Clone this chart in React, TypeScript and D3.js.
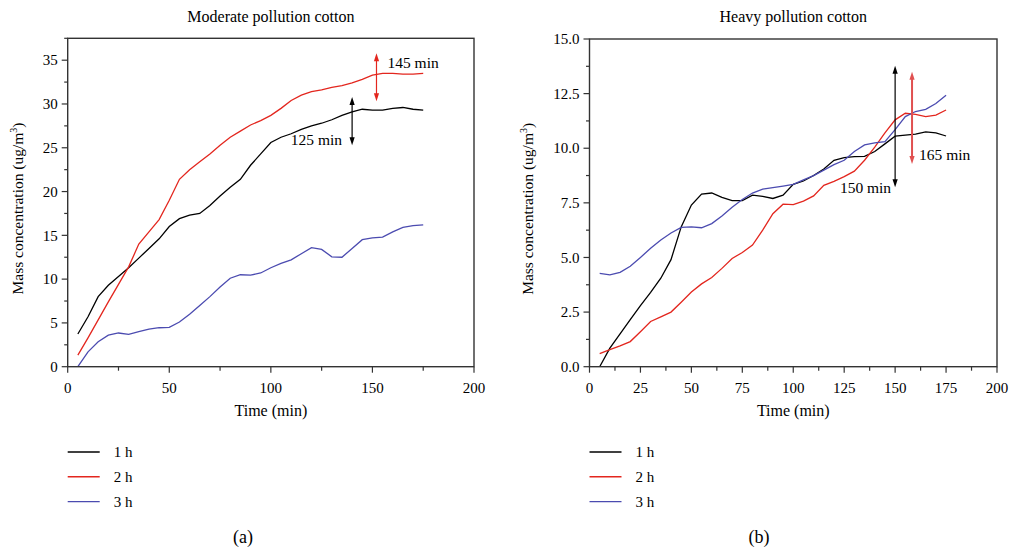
import React from "react";
import * as d3 from "d3";

const timeMin = [5, 10, 15, 20, 25, 30, 35, 40, 45, 50, 55, 60, 65, 70, 75, 80, 85, 90, 95, 100, 105, 110, 115, 120, 125, 130, 135, 140, 145, 150, 155, 160, 165, 170, 175];

const moderate1h = [3.73, 5.7, 8.0, 9.3, 10.3, 11.3, 12.4, 13.5, 14.6, 16.0, 16.9, 17.3, 17.5, 18.4, 19.5, 20.5, 21.4, 23.0, 24.3, 25.6, 26.2, 26.6, 27.1, 27.5, 27.8, 28.2, 28.7, 29.1, 29.4, 29.3, 29.3, 29.5, 29.6, 29.4, 29.3];
const moderate2h = [1.33, 3.3, 5.35, 7.4, 9.4, 11.4, 14.0, 15.4, 16.8, 19.0, 21.4, 22.5, 23.4, 24.3, 25.3, 26.2, 26.9, 27.6, 28.1, 28.7, 29.5, 30.4, 31.0, 31.4, 31.6, 31.9, 32.1, 32.4, 32.8, 33.3, 33.5, 33.5, 33.4, 33.4, 33.5];
const moderate3h = [0, 1.7, 2.85, 3.6, 3.85, 3.7, 4.0, 4.3, 4.45, 4.5, 5.1, 6.0, 7.0, 8.0, 9.1, 10.1, 10.5, 10.45, 10.7, 11.3, 11.8, 12.2, 12.9, 13.6, 13.4, 12.55, 12.5, 13.5, 14.5, 14.7, 14.8, 15.4, 15.9, 16.1, 16.2];

const heavy1h = [0, 0.85, 1.5, 2.15, 2.8, 3.4, 4.05, 4.9, 6.4, 7.4, 7.9, 7.95, 7.75, 7.6, 7.6, 7.85, 7.8, 7.7, 7.85, 8.35, 8.5, 8.75, 9.05, 9.45, 9.57, 9.62, 9.63, 9.85, 10.2, 10.55, 10.6, 10.65, 10.75, 10.7, 10.56];
const heavy2h = [0.6, 0.78, 0.95, 1.15, 1.6, 2.07, 2.28, 2.5, 2.95, 3.42, 3.79, 4.08, 4.5, 4.95, 5.23, 5.57, 6.25, 7.0, 7.44, 7.42, 7.58, 7.82, 8.3, 8.48, 8.7, 8.95, 9.45, 10.05, 10.7, 11.3, 11.6, 11.55, 11.45, 11.52, 11.75];
const heavy3h = [4.27, 4.2, 4.32, 4.6, 5.0, 5.42, 5.8, 6.12, 6.38, 6.4, 6.36, 6.55, 6.9, 7.3, 7.65, 7.95, 8.13, 8.2, 8.27, 8.35, 8.55, 8.75, 9.0, 9.25, 9.45, 9.85, 10.15, 10.25, 10.3, 10.85, 11.45, 11.68, 11.78, 12.05, 12.43];

const seriesLabels = ["1 h", "2 h", "3 h"];
const seriesColors = ["#000000", "#e3261e", "#4b4bb0"];

const panelTitles = ["Moderate pollution cotton", "Heavy pollution cotton"];
const panelTags = ["(a)", "(b)"];

const moderateYTicks = [0, 5, 10, 15, 20, 25, 30, 35];
const heavyYTicks = [0, 2.5, 5, 7.5, 10, 12.5, 15];
const moderateXTicks = [0, 50, 100, 150, 200];
const heavyXTicks = [0, 25, 50, 75, 100, 125, 150, 175, 200];

const moderateArrows = [
  { t: 140, lo: 25.3, hi: 30.8, label: "125 min", base: 25.3, color: "#000000" },
  { t: 152, lo: 30.3, hi: 35.8, label: "145 min", base: 34.1, color: "#e3261e" },
];
const heavyArrows = [
  { t: 150, lo: 8.21, hi: 13.77, label: "150 min", base: 7.95, color: "#000000" },
  { t: 158.3, lo: 9.28, hi: 13.5, label: "165 min", base: 9.46, color: "#e05050" },
];

const FONT = "'Liberation Serif', 'Times New Roman', serif";

type PanelProps = {
  x0: number; x1: number; yTop: number; yBot: number;
  yMax: number; yTicks: number[]; yMinorStep: number; yFmt: (v: number) => string;
  xTicks: number[]; xMinorStep: number;
  series: number[][]; title: string; tag: string; tagX: number;
  arrows: { t: number; lo: number; hi: number; label: string; base: number; color: string }[];
  arrowSides: ("left" | "right")[]; arrowOffsets: number[]; arrowWidths: number[];
  yLabelX: number;
};

function Panel(p: PanelProps) {
  const x = d3.scaleLinear().domain([0, 200]).range([p.x0, p.x1]);
  const y = d3.scaleLinear().domain([0, p.yMax]).range([p.yBot, p.yTop]);
  const line = d3.line<number>().x((_, i) => x(timeMin[i])).y((d) => y(d)).curve(d3.curveLinear);
  const yMinor = d3.range(0, p.yMax + 1e-6, p.yMinorStep).filter((v) => !p.yTicks.some((t) => Math.abs(t - v) < 1e-6));
  const xMinor = d3.range(0, 200 + 1e-6, p.xMinorStep).filter((v) => !p.xTicks.some((t) => Math.abs(t - v) < 1e-6));
  const cx = (p.x0 + p.x1) / 2;
  const axisColor = "#333";
  const head = (px: number, py: number, dir: number, color: string) => (
    <path d={`M${px},${py} L${px - 2.6},${py + dir * 8} L${px + 2.6},${py + dir * 8} Z`} fill={color} />
  );
  return (
    <g fontFamily={FONT}>
      <text x={cx} y={22} textAnchor="middle" fontSize={16}>{p.title}</text>
      {p.series.map((s, i) => (
        <path key={i} d={line(s) || ""} fill="none" stroke={seriesColors[i]} strokeWidth={1.3} />
      ))}
      <rect x={p.x0} y={p.yTop} width={p.x1 - p.x0} height={p.yBot - p.yTop} fill="none" stroke={axisColor} strokeWidth={1.4} />
      {p.yTicks.map((t) => (
        <g key={"y" + t}>
          <line x1={p.x0 - 6} x2={p.x0} y1={y(t)} y2={y(t)} stroke={axisColor} strokeWidth={1.2} />
          <text x={p.x0 - 10} y={y(t)} dy="0.35em" textAnchor="end" fontSize={15}>{p.yFmt(t)}</text>
        </g>
      ))}
      {yMinor.map((t) => (
        <line key={"ym" + t} x1={p.x0 - 3.5} x2={p.x0} y1={y(t)} y2={y(t)} stroke={axisColor} strokeWidth={1.2} />
      ))}
      {p.xTicks.map((t) => (
        <g key={"x" + t}>
          <line x1={x(t)} x2={x(t)} y1={p.yBot} y2={p.yBot + 6} stroke={axisColor} strokeWidth={1.2} />
          <text x={x(t)} y={p.yBot + 26} textAnchor="middle" fontSize={15}>{t}</text>
        </g>
      ))}
      {xMinor.map((t) => (
        <line key={"xm" + t} x1={x(t)} x2={x(t)} y1={p.yBot} y2={p.yBot + 4} stroke={axisColor} strokeWidth={1.2} />
      ))}
      <text x={cx} y={416} textAnchor="middle" fontSize={16}>Time (min)</text>
      <text transform={`translate(${p.yLabelX},${(p.yTop + p.yBot) / 2 + 6}) rotate(-90)`} textAnchor="middle" fontSize={15.5} dy="0.35em">
        Mass concentration (ug/m<tspan dy="-6" fontSize={10}>3</tspan><tspan dy="6">)</tspan>
      </text>
      {p.arrows.map((a, i) => {
        const ax = x(a.t);
        const yt = y(a.hi);
        const yb = y(a.lo);
        return (
          <g key={"a" + i}>
            <line x1={ax} x2={ax} y1={yt + 6} y2={yb - 6} stroke={a.color} strokeWidth={p.arrowWidths[i]} />
            {head(ax, yt, 1, a.color)}
            {head(ax, yb, -1, a.color)}
            <text x={p.arrowSides[i] === "left" ? ax - p.arrowOffsets[i] : ax + p.arrowOffsets[i]} y={y(a.base)}
              textAnchor={p.arrowSides[i] === "left" ? "end" : "start"} fontSize={15.5}>{a.label}</text>
          </g>
        );
      })}
      {seriesLabels.map((lab, i) => (
        <g key={"l" + i}>
          <line x1={p.x0} x2={p.x0 + 32} y1={452 + i * 24.8} y2={452 + i * 24.8} stroke={seriesColors[i]} strokeWidth={1.4} />
          <text x={p.x0 + 46} y={452 + i * 24.8} dy="0.35em" fontSize={15}>{lab}</text>
        </g>
      ))}
      <text x={p.tagX} y={537} dy="0.35em" textAnchor="middle" fontSize={18}>{p.tag}</text>
    </g>
  );
}

export default function App() {
  return (
    <svg width={1009} height={548} style={{ position: "absolute", left: 0, top: 0, background: "#fff" }}>
      <rect width={1009} height={548} fill="#fff" />
      <Panel x0={67.7} x1={474} yTop={38.3} yBot={366.7} yMax={37.5} yTicks={moderateYTicks} yMinorStep={2.5}
        yFmt={(v) => String(v)} xTicks={moderateXTicks} xMinorStep={25}
        series={[moderate1h, moderate2h, moderate3h]} title={panelTitles[0]} tag={panelTags[0]} tagX={243}
        arrows={moderateArrows} arrowSides={["left", "right"]} arrowOffsets={[10, 11]} arrowWidths={[1.2, 1.2]} yLabelX={18} />
      <Panel x0={589.5} x1={997} yTop={39} yBot={366.7} yMax={15} yTicks={heavyYTicks} yMinorStep={1.25}
        yFmt={(v) => v.toFixed(1)} xTicks={heavyXTicks} xMinorStep={12.5}
        series={[heavy1h, heavy2h, heavy3h]} title={panelTitles[1]} tag={panelTags[1]} tagX={759}
        arrows={heavyArrows} arrowSides={["left", "right"]} arrowOffsets={[4, 7]} arrowWidths={[1.2, 2]} yLabelX={528} />
    </svg>
  );
}
